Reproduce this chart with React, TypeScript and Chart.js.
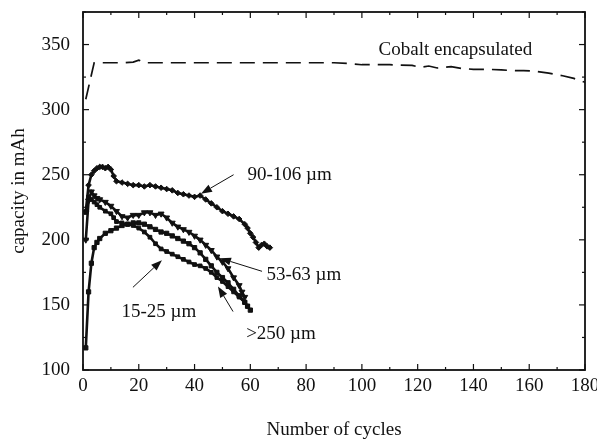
import { useEffect, useRef } from "react";
import { Chart, registerables } from "chart.js";

Chart.register(...registerables);

const FONT = "'Liberation Serif', 'Times New Roman', serif";

// Cobalt encapsulated electrode (dashed, no markers)
const cobaltCycles = [1, 4, 10, 15, 18, 20, 22, 30, 40, 50, 60, 70, 80, 90, 95, 100, 110, 118, 121, 124, 127, 132, 136, 140, 145, 150, 154, 158, 162, 167, 172, 176, 180];
const cobaltCapacity = [308, 336, 336, 336, 336.5, 338, 336, 336, 336, 336, 336, 336, 336, 336, 335.5, 334.5, 334.5, 334, 332.5, 333.5, 332, 333, 331.5, 331, 331, 330.5, 330, 330, 329.5, 328, 326, 324, 321];

// 90-106 µm
const c90Cycles = [1, 2, 3, 4, 5, 6, 7, 8, 9, 10, 11, 12, 14, 16, 18, 20, 22, 24, 26, 28, 30, 32, 34, 36, 38, 40, 42, 44, 46, 48, 50, 52, 54, 56, 58, 59, 60, 61, 62, 63, 64, 65, 66, 67];
const c90Capacity = [222, 242, 250, 253, 255, 256, 256, 255, 256, 254, 249, 245, 244, 243, 242, 242, 241, 242, 241, 240, 239, 238, 236, 235, 234, 233, 234, 231, 228, 225, 222, 220, 218, 216, 212, 209, 205, 202, 198, 194, 196, 197, 195, 194];

// 53-63 µm
const c53Cycles = [1, 2, 3, 4, 5, 6, 8, 10, 12, 14, 16, 18, 20, 22, 24, 26, 28, 30, 32, 34, 36, 38, 40, 42, 44, 46, 48, 50, 52, 54, 56, 57, 58];
const c53Capacity = [200, 230, 237, 234, 232, 231, 229, 226, 222, 218, 217, 219, 219, 221, 221, 219, 220, 217, 213, 210, 208, 206, 203, 200, 196, 192, 187, 183, 178, 171, 165, 160, 156];

// 15-25 µm
const c15Cycles = [1, 2, 3, 4, 5, 6, 8, 10, 11, 12, 14, 16, 18, 20, 22, 24, 26, 28, 30, 32, 34, 36, 38, 40, 42, 44, 46, 48, 50, 52, 54, 56, 58, 59];
const c15Capacity = [221, 233, 231, 229, 227, 225, 222, 220, 217, 214, 213, 212, 211, 209, 206, 202, 197, 193, 191, 189, 187, 185, 183, 181, 180, 178, 175, 171, 168, 164, 160, 156, 152, 149];

// >250 µm
const c250Cycles = [1, 2, 3, 4, 5, 6, 8, 10, 12, 14, 16, 18, 20, 22, 24, 26, 28, 30, 32, 34, 36, 38, 40, 42, 44, 46, 48, 50, 52, 54, 56, 58, 59, 60];
const c250Capacity = [117, 160, 182, 194, 198, 201, 205, 207, 209, 211, 212, 213, 213, 212, 210, 208, 206, 205, 203, 201, 199, 197, 194, 190, 185, 180, 175, 171, 167, 162, 157, 152, 149, 146];

// Axis ticks
const xTickValues = [0, 20, 40, 60, 80, 100, 120, 140, 160, 180];
const yTickValues = [100, 150, 200, 250, 300, 350];

// Curve labels: text, cycle and capacity of the left edge / vertical centre
const labelTexts = ["Cobalt encapsulated", "90-106 \u00b5m", "53-63 \u00b5m", "15-25 \u00b5m", ">250 \u00b5m"];
const labelCycles = [106, 59, 65.8, 13.8, 58.5];
const labelCapacities = [345.5, 250, 173, 144.5, 128];

// Pointer arrows: tail -> head, in data units
const arrowTailCycles = [54, 64.2, 17.9, 53.8];
const arrowTailCapacities = [250, 175.8, 163.5, 144.9];
const arrowHeadCycles = [42.3, 49.1, 28.3, 48.4];
const arrowHeadCapacities = [235.4, 185.9, 184.4, 164.2];

const toPoints = (xs: number[], ys: number[]) => xs.map((x, i) => ({ x, y: ys[i] }));

const decorations = {
  id: "decorations",
  afterDraw(chart: any) {
    const { ctx, chartArea: a } = chart;
    const xs = chart.scales.x;
    const ys = chart.scales.y;
    ctx.save();
    ctx.strokeStyle = "#111";
    ctx.fillStyle = "#111";

    // frame
    ctx.lineWidth = 1.8;
    ctx.strokeRect(a.left, a.top, a.right - a.left, a.bottom - a.top);

    // inward ticks on all four sides
    ctx.lineWidth = 1.2;
    const seg = (x1: number, y1: number, x2: number, y2: number) => {
      ctx.beginPath();
      ctx.moveTo(x1, y1);
      ctx.lineTo(x2, y2);
      ctx.stroke();
    };
    for (let v = 0; v <= 180; v += 10) {
      const px = xs.getPixelForValue(v);
      const len = v % 20 === 0 ? 6 : 3;
      seg(px, a.bottom, px, a.bottom - len);
      seg(px, a.top, px, a.top + len);
    }
    for (let v = 100; v <= 375; v += 25) {
      const py = ys.getPixelForValue(v);
      const len = v % 50 === 0 ? 6 : 3;
      seg(a.left, py, a.left + len, py);
      seg(a.right, py, a.right - len, py);
    }

    // curve labels
    ctx.font = `19px ${FONT}`;
    ctx.textAlign = "left";
    ctx.textBaseline = "middle";
    labelTexts.forEach((t, i) => {
      ctx.fillText(t, xs.getPixelForValue(labelCycles[i]), ys.getPixelForValue(labelCapacities[i]));
    });

    // arrows
    ctx.lineWidth = 1;
    arrowTailCycles.forEach((_, i) => {
      const x1 = xs.getPixelForValue(arrowTailCycles[i]);
      const y1 = ys.getPixelForValue(arrowTailCapacities[i]);
      const x2 = xs.getPixelForValue(arrowHeadCycles[i]);
      const y2 = ys.getPixelForValue(arrowHeadCapacities[i]);
      const ang = Math.atan2(y2 - y1, x2 - x1);
      const hl = 11;
      const hw = 4;
      const bx = x2 - hl * Math.cos(ang);
      const by = y2 - hl * Math.sin(ang);
      seg(x1, y1, bx, by);
      ctx.beginPath();
      ctx.moveTo(x2, y2);
      ctx.lineTo(bx + hw * Math.sin(ang), by - hw * Math.cos(ang));
      ctx.lineTo(bx - hw * Math.sin(ang), by + hw * Math.cos(ang));
      ctx.closePath();
      ctx.fill();
    });
    ctx.restore();
  },
};

export default function App() {
  const canvasRef = useRef<HTMLCanvasElement | null>(null);

  useEffect(() => {
    const canvas = canvasRef.current;
    if (!canvas) return;

    const markerSeries = (label: string, xs: number[], ys: number[], style: any, rotation = 0, radius = 2.8) => ({
      label,
      data: toPoints(xs, ys),
      borderColor: "#111",
      backgroundColor: "#111",
      borderWidth: 2.6,
      pointStyle: style,
      pointRotation: rotation,
      pointRadius: radius,
      pointBorderWidth: 1,
      pointBackgroundColor: "#111",
      pointBorderColor: "#111",
      tension: 0,
    });

    const chart = new Chart(canvas, {
      type: "line",
      data: {
        datasets: [
          {
            label: "Cobalt encapsulated",
            data: toPoints(cobaltCycles, cobaltCapacity),
            borderColor: "#111",
            borderWidth: 1.7,
            borderDash: [15, 8],
            pointRadius: 0,
            tension: 0,
          },
          markerSeries("90-106 \u00b5m", c90Cycles, c90Capacity, "rectRot", 0, 2.8),
          markerSeries("53-63 \u00b5m", c53Cycles, c53Capacity, "triangle", 180, 3.4),
          markerSeries("15-25 \u00b5m", c15Cycles, c15Capacity, "rect", 0, 2.6),
          markerSeries(">250 \u00b5m", c250Cycles, c250Capacity, "rect", 0, 3),
        ],
      },
      options: {
        responsive: false,
        animation: false,
        devicePixelRatio: 1,
        layout: { autoPadding: false, padding: { left: 0, right: 12, top: 12, bottom: 0 } },
        plugins: { legend: { display: false }, tooltip: { enabled: false } },
        scales: {
          x: {
            type: "linear",
            min: 0,
            max: 180,
            afterBuildTicks: (s: any) => {
              s.ticks = xTickValues.map((value) => ({ value }));
            },
            afterFit: (s: any) => {
              s.height = 72;
              s.paddingLeft = 0;
              s.paddingRight = 0;
            },
            grid: { display: false, drawTicks: false },
            border: { display: false },
            ticks: { color: "#111", font: { family: FONT, size: 19 }, padding: 5, maxRotation: 0 },
            title: {
              display: true,
              text: "Number of cycles",
              color: "#111",
              font: { family: FONT, size: 19 },
              padding: { top: 0, bottom: 1 },
            },
          },
          y: {
            type: "linear",
            min: 100,
            max: 375,
            afterBuildTicks: (s: any) => {
              s.ticks = yTickValues.map((value) => ({ value }));
            },
            afterFit: (s: any) => {
              s.width = 83;
              s.paddingTop = 0;
              s.paddingBottom = 0;
            },
            grid: { display: false, drawTicks: false },
            border: { display: false },
            ticks: { color: "#111", font: { family: FONT, size: 19 }, padding: 13 },
            title: {
              display: true,
              text: "capacity in mAh",
              color: "#111",
              font: { family: FONT, size: 19 },
              padding: { top: 8, bottom: 0 },
            },
          },
        },
      },
      plugins: [decorations],
    });

    return () => chart.destroy();
  }, []);

  return (
    <div style={{ position: "absolute", left: 0, top: 0, width: 597, height: 442, background: "#fff", overflow: "hidden" }}>
      <canvas ref={canvasRef} width={597} height={442} />
    </div>
  );
}
